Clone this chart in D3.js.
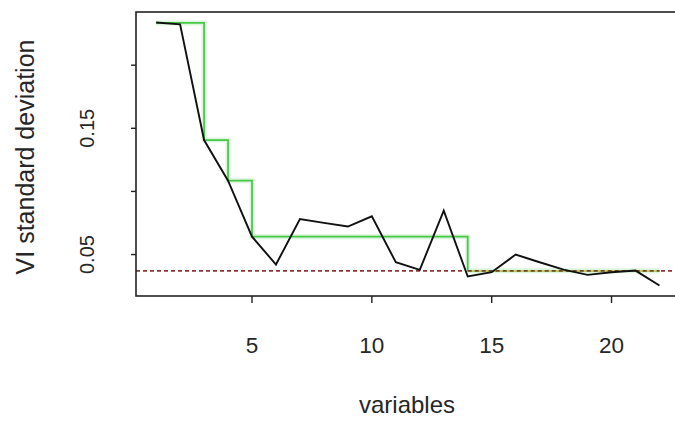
<!DOCTYPE html>
<html>
<head>
<meta charset="utf-8">
<script src="https://cdn.jsdelivr.net/npm/d3@7"></script>
<style>
  html, body { margin: 0; padding: 0; background: #fff; }
  svg { display: block; }
  text { font-family: "Liberation Sans", Arial, sans-serif; fill: #262626; }
</style>
</head>
<body>
<svg id="chart" width="675" height="426"></svg>
<script>
// Variable index (ordered by decreasing importance)
const variables = d3.range(1, 23);
// Standard deviation of variable importance
const sdValues = [0.2338, 0.2323, 0.1407, 0.1085, 0.0642, 0.0421, 0.0782, 0.0751, 0.0722, 0.0803,
                  0.0439, 0.0379, 0.0848, 0.0326, 0.0360, 0.0500, 0.0439, 0.0381, 0.0339, 0.0360,
                  0.0373, 0.0255];
// Pruned CART tree predictions (step function)
const treePred = [0.2335, 0.2335, 0.1407, 0.1085, 0.0642, 0.0642, 0.0642, 0.0642, 0.0642, 0.0642,
                  0.0642, 0.0642, 0.0642, 0.0371, 0.0371, 0.0371, 0.0371, 0.0371, 0.0371, 0.0371,
                  0.0371, 0.0371];
// Thresholding level
const threshold = 0.0371;

const xTicks = [5, 10, 15, 20];
const yTicks = [0.05, 0.10, 0.15, 0.20];
const yTickLabels = ["0.05", "", "0.15", ""];

const svg = d3.select("#chart");
const plot = { left: 136, top: 12, bottom: 296, right: 679.6 };

// base-graphics style 4% padding on each axis
function padded(ext) {
  const p = (ext[1] - ext[0]) * 0.04;
  return [ext[0] - p, ext[1] + p];
}

const x = d3.scaleLinear().domain(padded(d3.extent(variables))).range([plot.left, plot.right]);
const y = d3.scaleLinear().domain(padded(d3.extent(sdValues.concat(treePred)))).range([plot.bottom, plot.top]);

// threshold line (dotted red)
svg.append("line")
  .attr("x1", plot.left).attr("x2", plot.right)
  .attr("y1", y(threshold)).attr("y2", y(threshold))
  .attr("stroke", "#8e3530").attr("stroke-width", 1.6)
  .attr("stroke-dasharray", "4,3");

// tree prediction step line with soft halo
const step = d3.line().x((d, i) => x(variables[i])).y(d => y(d)).curve(d3.curveStepAfter);
svg.append("path").datum(treePred)
  .attr("d", step).attr("fill", "none")
  .attr("stroke", "#dcf5dc").attr("stroke-width", 5);
svg.append("path").datum(treePred)
  .attr("d", step).attr("fill", "none")
  .attr("stroke", "#45c845").attr("stroke-width", 1.7);

// where the last step sits on the threshold, the two lines blend
const lastStep = variables.filter((v, i) => treePred[i] === threshold);
svg.append("line")
  .attr("x1", x(d3.min(lastStep))).attr("x2", x(d3.max(lastStep)))
  .attr("y1", y(threshold)).attr("y2", y(threshold))
  .attr("stroke", "#cfc86a").attr("stroke-width", 1.7);
svg.append("line")
  .attr("x1", x(d3.min(lastStep))).attr("x2", x(d3.max(lastStep)))
  .attr("y1", y(threshold)).attr("y2", y(threshold))
  .attr("stroke", "#6e4a2a").attr("stroke-width", 1.6)
  .attr("stroke-dasharray", "4,3");

// standard deviation curve
const line = d3.line().x((d, i) => x(variables[i])).y(d => y(d));
svg.append("path").datum(sdValues)
  .attr("d", line).attr("fill", "none")
  .attr("stroke", "#111").attr("stroke-width", 1.9)
  .attr("stroke-linejoin", "miter");

// plot frame
svg.append("rect")
  .attr("x", plot.left).attr("y", plot.top)
  .attr("width", plot.right - plot.left).attr("height", plot.bottom - plot.top)
  .attr("fill", "none").attr("stroke", "#222").attr("stroke-width", 1.6);

// x axis
const xAxis = svg.append("g");
xAxis.selectAll("line").data(xTicks).join("line")
  .attr("x1", d => x(d)).attr("x2", d => x(d))
  .attr("y1", plot.bottom).attr("y2", plot.bottom + 7)
  .attr("stroke", "#222").attr("stroke-width", 1.4);
xAxis.selectAll("text").data(xTicks).join("text")
  .attr("x", d => x(d)).attr("y", 353)
  .attr("text-anchor", "middle").attr("font-size", 22.5)
  .text(d => d);

// y axis
const yAxis = svg.append("g");
yAxis.selectAll("line").data(yTicks).join("line")
  .attr("x1", plot.left - 5).attr("x2", plot.left)
  .attr("y1", d => y(d)).attr("y2", d => y(d))
  .attr("stroke", "#222").attr("stroke-width", 1.4);
yAxis.selectAll("text").data(yTicks).join("text")
  .attr("transform", d => `translate(87,${y(d)}) rotate(-90)`)
  .attr("text-anchor", "middle").attr("dominant-baseline", "central")
  .attr("font-size", 20)
  .text((d, i) => yTickLabels[i]);

// axis titles
svg.append("text")
  .attr("x", 407).attr("y", 413)
  .attr("text-anchor", "middle").attr("font-size", 24)
  .text("variables");
svg.append("text")
  .attr("transform", "translate(25,157) rotate(-90)")
  .attr("text-anchor", "middle").attr("dominant-baseline", "central")
  .attr("font-size", 25)
  .text("VI standard deviation");
</script>
</body>
</html>
